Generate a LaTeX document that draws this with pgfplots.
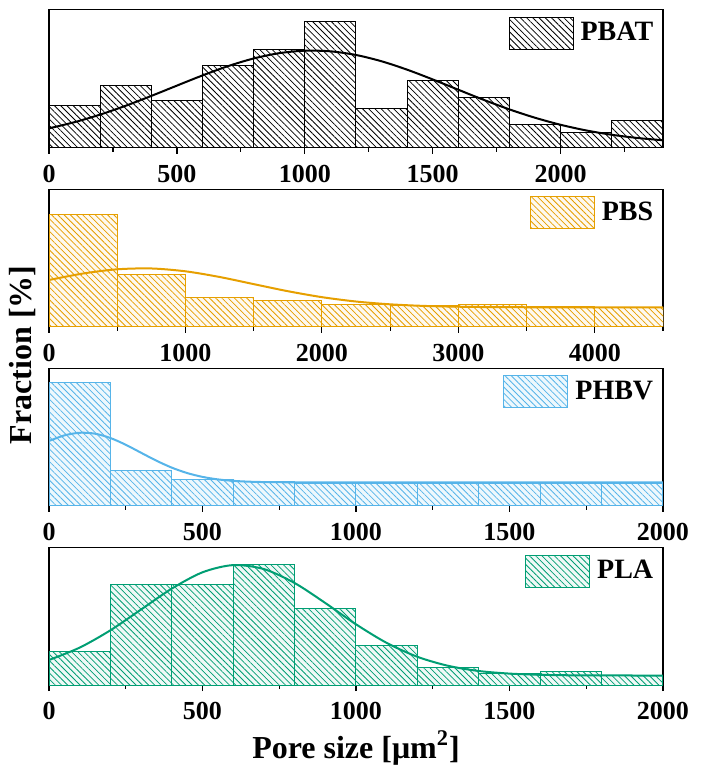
\documentclass[border=0pt]{standalone}
\usepackage{pgfplots}
\pgfplotsset{compat=1.18}
\usetikzlibrary{patterns.meta}
\usepackage{fontspec}
\setmainfont{Liberation Serif}

\definecolor{cPBS}{HTML}{E69F00}
\definecolor{cPHBV}{HTML}{56B4E9}
\definecolor{cPLA}{HTML}{009E73}

\tikzset{hatch/.style={pattern={Lines[angle=-45,distance=2.2pt,line width=0.4pt]}, pattern color=#1}}

\pgfplotsset{
  panel/.style={
    scale only axis, width=307pt,
    enlargelimits=false, ymin=0,
    axis line style={line width=0.6pt},
    ytick=\empty, xtick pos=left, tick align=outside,
    major tick length=3pt, minor tick length=2pt,
    every tick/.style={black, line width=0.6pt},
    tick label style={font=\fontsize{13}{15}\selectfont\bfseries},
    xticklabel style={inner sep=0pt, anchor=north, yshift=-5.35pt},
    /pgf/number format/assume math mode=true,
    /pgf/number format/1000 sep={},
    scaled x ticks=false,
    legend style={at={(1,1)}, anchor=north east, xshift=-4.7pt, yshift=-3.3pt,
      draw=none, fill=none, inner sep=0pt, font=\fontsize{14}{16}\selectfont\bfseries,
      nodes={inner sep=0pt}, /tikz/every odd column/.style={column sep=3.5pt}},
  },
}

\begin{document}
\begin{tikzpicture}
\useasboundingbox (0,0) rectangle (351.5pt,386.5pt);

% PBAT
\begin{axis}[panel, at={(24.5pt,312.65pt)}, anchor=south west, height=69.1pt,
  xmin=0, xmax=2400, ymax=414,
  xtick={0,500,1000,1500,2000}, minor xtick={250,750,1250,1750,2250}]
\addplot[ybar interval, draw=black, line width=0.5pt, fill=white, postaction={hatch=black}, forget plot]
  coordinates {(0,127) (200,187) (400,140) (600,247) (800,293) (1000,377) (1200,117) (1400,200) (1600,151) (1800,68) (2000,45) (2200,81) (2400,81)};
\addplot[smooth, black, line width=1pt, forget plot] coordinates {
  (0,58.0) (100,76.5) (200,99.2) (300,125.7) (400,155.1) (500,186.0) (600,216.5) (700,244.4)
  (800,267.3) (900,283.2) (1000,290.6) (1100,288.7) (1200,277.8) (1300,258.9) (1400,233.7)
  (1500,204.5) (1600,173.6) (1700,143.1) (1800,114.7) (1900,89.7) (2000,68.6) (2100,51.7)
  (2200,38.7) (2300,29.1) (2400,22.3)};
\addlegendimage{legend image code/.code={\draw[draw=black, line width=0.5pt, fill=white, postaction={hatch=black}] (0pt,-8pt) rectangle (32pt,8pt);}}
\addlegendentry{PBAT}
\end{axis}

% PBS
\begin{axis}[panel, at={(24.5pt,223.15pt)}, anchor=south west, height=68.7pt,
  xmin=0, xmax=4500, ymax=412,
  xtick={0,1000,2000,3000,4000}, minor xtick={500,1500,2500,3500,4500}]
\addplot[ybar interval, draw=cPBS, line width=0.5pt, fill=cPBS!6, postaction={hatch=cPBS}, forget plot]
  coordinates {(0,335) (500,157) (1000,88) (1500,79) (2000,67) (2500,63) (3000,68) (3500,61) (4000,58) (4500,58)};
\addplot[smooth, cPBS, line width=1pt, forget plot] coordinates {
  (0,140.0) (250,159.5) (500,172.1) (750,174.6) (1000,166.1) (1250,149.1) (1500,127.7)
  (1750,106.5) (2000,88.6) (2250,75.5) (2500,67.1) (2750,62.3) (3000,59.9) (3250,58.7)
  (3500,58.3) (3750,58.1) (4000,58.0) (4250,58.0) (4500,58.0)};
\addlegendimage{legend image code/.code={\draw[draw=cPBS, line width=0.5pt, fill=cPBS!6, postaction={hatch=cPBS}] (0pt,-8pt) rectangle (32pt,8pt);}}
\addlegendentry{PBS}
\end{axis}

% PHBV
\begin{axis}[panel, at={(24.5pt,133.65pt)}, anchor=south west, height=68.7pt,
  xmin=0, xmax=2000, ymax=412,
  xtick={0,500,1000,1500,2000}, minor xtick={250,750,1250,1750}]
\addplot[ybar interval, draw=cPHBV, line width=0.5pt, fill=cPHBV!10, postaction={hatch=cPHBV}, forget plot]
  coordinates {(0,370) (200,106) (400,79) (600,73) (800,68) (1000,68) (1200,68) (1400,68) (1600,68) (1800,68) (2000,68)};
\addplot[smooth, cPHBV, line width=1pt, forget plot] coordinates {
  (0,194.0) (50,210.8) (100,218.7) (150,215.9) (200,203.0) (250,182.7) (300,158.7) (350,134.9)
  (400,114.1) (450,97.9) (500,86.4) (550,78.9) (600,74.5) (650,72.1) (700,70.9) (800,70.1)
  (1000,70) (1500,70) (2000,70)};
\addlegendimage{legend image code/.code={\draw[draw=cPHBV, line width=0.5pt, fill=cPHBV!10, postaction={hatch=cPHBV}] (0pt,-8pt) rectangle (32pt,8pt);}}
\addlegendentry{PHBV}
\end{axis}

% PLA
\begin{axis}[panel, at={(24.5pt,44.0pt)}, anchor=south west, height=68.65pt,
  xmin=0, xmax=2000, ymax=137.3,
  xtick={0,500,1000,1500,2000}, minor xtick={250,750,1250,1750},
  xlabel={Pore size [μm\textsuperscript{2}]},
  xlabel style={at={(axis description cs:0.5,0)}, anchor=base, yshift=-36.65pt, font=\fontsize{16}{19}\selectfont\bfseries}]
\addplot[ybar interval, draw=cPLA, line width=0.5pt, fill=cPLA!6, postaction={hatch=cPLA}, forget plot]
  coordinates {(0,33.3) (200,100.7) (400,100.7) (600,120) (800,76.7) (1000,39.3) (1200,17.3) (1400,12) (1600,13.3) (1800,9.3) (2000,9.3)};
\addplot[smooth, cPLA, line width=1pt, forget plot] coordinates {
  (0,25.0) (100,37.4) (200,54.7) (300,75.5) (400,96.4) (500,112.7) (600,119.9) (700,115.9)
  (800,102.0) (900,82.0) (1000,60.7) (1100,42.1) (1200,28.2) (1300,19.2) (1400,14.0)
  (1500,11.4) (1600,10.2) (1700,9.7) (1800,9.6) (1900,9.5) (2000,9.5)};
\addlegendimage{legend image code/.code={\draw[draw=cPLA, line width=0.5pt, fill=cPLA!6, postaction={hatch=cPLA}] (0pt,-8pt) rectangle (32pt,8pt);}}
\addlegendentry{PLA}
\end{axis}

\node[rotate=90, anchor=base, font=\fontsize{16}{19}\selectfont\bfseries] at (15.85pt,209pt) {Fraction [\%]};
\end{tikzpicture}
\end{document}
